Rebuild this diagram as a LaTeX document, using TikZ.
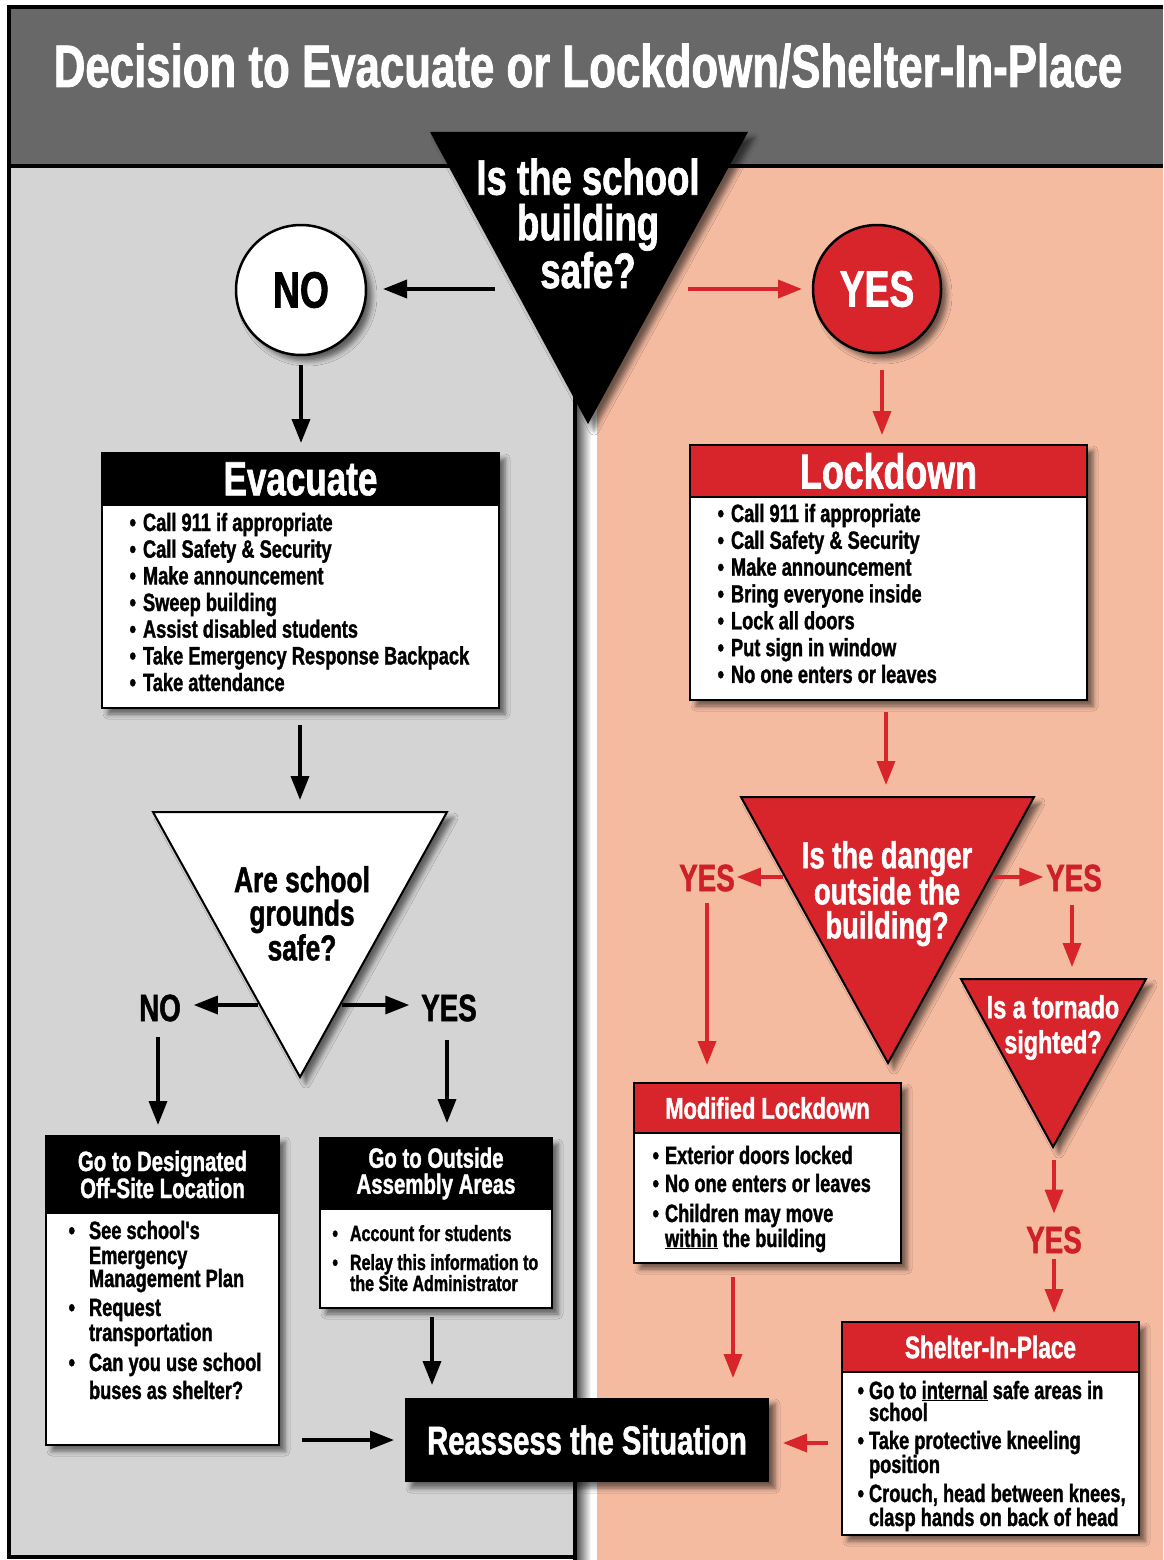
\documentclass[tikz,border=0pt]{standalone}
\usepackage{fontspec}
\newfontfamily\cond[FakeStretch=0.73,FakeBold=1.3]{Liberation Sans}
\usetikzlibrary{arrows.meta,shadows.blur}
\definecolor{bandgray}{RGB}{104,104,104}
\definecolor{leftgray}{RGB}{212,212,212}
\definecolor{salmon}{RGB}{244,187,161}
\definecolor{myred}{RGB}{216,36,43}
\definecolor{labred}{RGB}{205,32,40}
\newcommand\fsz[2]{\fontsize{#1}{#2}\selectfont}
\newcommand\bul[1]{\llap{\textbullet\hspace{#1pt}}}
\begin{document}
\begin{tikzpicture}[x=1pt,y=-1pt,
  every node/.style={inner sep=0pt, outer sep=0pt},
  fs/.style={font=\cond\bfseries\fsz{#1}{#1}},
  fsb/.style 2 args={font=\cond\bfseries\fsz{#1}{#2}},
  shad/.style={blur shadow={shadow xshift=6pt, shadow yshift=-6pt, shadow blur radius=5pt, shadow opacity=55}},
  arr/.style={line width=3.5pt, -{Triangle[length=24pt,width=18pt]}},
  barr/.style={arr, draw=black},
  rarr/.style={arr, draw=myred},
  boxall/.style={draw=black, line width=2.5pt, fill=white, shad},
  boxhead/.style={draw=black, line width=2.5pt, anchor=north, text=white},
  item/.style={anchor=base west, fs=25},
  redlab/.style={fs=38, text=labred},
]
\useasboundingbox (0,0) rectangle (1163,1560);
% background
\fill[white] (0,0) rectangle (1163,1560);
\fill[bandgray] (9,7) rectangle (1163,166);
\fill[leftgray] (9,166) rectangle (575,1557);
\fill[salmon] (597,166) rectangle (1163,1560);
\shade[left color=black!65, right color=white] (577,166) rectangle (591,1560);
\fill[white] (591,166) rectangle (597,1560);
\draw[line width=4pt] (575,166) -- (575,1560);
\draw[line width=4pt] (9,166) -- (1163,166);
\draw[line width=4pt] (1163,7) -- (9,7) -- (9,1557) -- (577,1557);

\node[fs=60, text=white, anchor=base] (title) at (588,87) {Decision to Evacuate or Lockdown/Shelter-In-Place};

% top question
\fill[black, shad] (430,132) -- (748,132) -- (588,424) -- cycle;
\node[fsb={50}{45.5}, text=white, align=center, anchor=north] (q1) at (588,158.5) {Is the school\\building\\safe?};

% circles
\node[circle, draw=black, line width=2.5pt, fill=white, shad, minimum size=130pt, fs=51] (no) at (301,290) {NO};
\node[circle, draw=black, line width=2.5pt, fill=myred, text=white, shad, minimum size=128pt, fs=51] (yes) at (877,289) {YES};

\coordinate (q1w) at (495,289);
\coordinate (q1e) at (688,289);
\draw[barr, shorten >=17pt] (q1w) -- (q1w -| no.east);
\draw[rarr, shorten >=11pt] (q1e) -- (q1e -| yes.west);

% Evacuate
\node[boxall, minimum width=397pt, minimum height=255pt] (ev) at (300.5,580.5) {};
\node[boxhead, fill=black, minimum width=397pt, minimum height=52pt, fs=48] (evh) at (ev.north) {Evacuate};
\foreach \t [count=\i] in {Call 911 if appropriate, Call Safety \& Security, Make announcement, Sweep building, Assist disabled students, Take Emergency Response Backpack, Take attendance}
  \node[item] (evi\i) at (143,{531+26.67*(\i-1)}) {\bul{7}\t};

% Lockdown
\node[boxall, minimum width=397pt, minimum height=255pt] (lk) at (888.5,572.5) {};
\node[boxhead, fill=myred, minimum width=397pt, minimum height=52pt, fs=49] (lkh) at (lk.north) {Lockdown};
\foreach \t [count=\i] in {Call 911 if appropriate, Call Safety \& Security, Make announcement, Bring everyone inside, Lock all doors, Put sign in window, No one enters or leaves}
  \node[item] (lki\i) at (731,{522+26.83*(\i-1)}) {\bul{7}\t};

\draw[barr, shorten <=10pt, shorten >=10pt] (no.south) -- (no.south |- ev.north);
\coordinate (ya) at (882,370);
\draw[rarr, shorten >=10pt] (ya) -- (ya |- lk.north);

% grounds question
\coordinate (evs) at (300,725);
\coordinate (q2top) at (300,812);
\draw[barr, shorten >=12pt] (evs) -- (q2top);
\filldraw[fill=white, draw=black, line width=2pt, shad] (153,812) -- (447,812) -- (300,1077) -- cycle;
\node[fsb={36}{33.5}, align=center, anchor=north] (q2) at (302,866) {Are school\\grounds\\safe?};
\node[fs=38] (no2) at (160,1008) {NO};
\node[fs=38] (yes2) at (449,1008) {YES};
\coordinate (q2l) at (258,1005);
\coordinate (q2r) at (342,1005);
\draw[barr, shorten >=13pt] (q2l) -- (q2l -| no2.east);
\draw[barr, shorten >=12pt] (q2r) -- (q2r -| yes2.west);

% designated
\node[boxall, minimum width=233pt, minimum height=309pt] (des) at (162.5,1290.5) {};
\node[boxhead, fill=black, minimum width=233pt, minimum height=77pt, fsb={28}{27}, align=center] (desh) at (des.north) {\rule{0pt}{8pt}Go to Designated\\Off-Site Location};
\node[item] (des1) at (89,1239) {\bul{14}See school's};
\node[item] (des2) at (89,1264) {Emergency};
\node[item] (des3) at (89,1287) {Management Plan};
\node[item] (des4) at (89,1316) {\bul{14}Request};
\node[item] (des5) at (89,1341) {transportation};
\node[item] (des6) at (89,1371) {\bul{14}Can you use school};
\node[item] (des7) at (89,1399) {buses as shelter?};

% assembly
\node[boxall, minimum width=232pt, minimum height=170pt] (asm) at (436,1223) {};
\node[boxhead, fill=black, minimum width=232pt, minimum height=71pt, fsb={28}{26}, align=center] (asmh) at (asm.north) {Go to Outside\\Assembly Areas};
\node[item, fs=22] (asm1) at (350,1241) {\bul{12}Account for students};
\node[item, fs=22] (asm2) at (350,1270) {\bul{12}Relay this information to};
\node[item, fs=22] (asm3) at (350,1291) {the Site Administrator};

\coordinate (no2d) at (158,1037);
\coordinate (yes2d) at (447,1040);
\draw[barr, shorten >=11pt] (no2d) -- (no2d |- des.north);
\draw[barr, shorten >=15pt] (yes2d) -- (yes2d |- asm.north);

% reassess
\node[fill=black, shad, minimum width=364pt, minimum height=84pt, fs=40, text=white] (re) at (587,1440) {Reassess the Situation};
\coordinate (asms) at (432,1317);
\draw[barr, shorten >=13pt] (asms) -- (asms |- re.north);
\coordinate (desr) at (302,1440);
\draw[barr, shorten >=11pt] (desr) -- (desr -| re.west);

% danger question
\coordinate (lks) at (886,712);
\coordinate (q3top) at (886,797);
\draw[rarr, shorten >=12pt] (lks) -- (q3top);
\filldraw[fill=myred, draw=black, line width=2pt, shad] (741,797) -- (1034,797) -- (888,1063) -- cycle;
\node[fsb={37.5}{34}, text=white, align=center, anchor=north] (q3) at (887,841) {Is the danger\\outside the\\building?};
\node[redlab] (ya2) at (707,878) {YES};
\node[redlab] (yb2) at (1074,878) {YES};
\coordinate (q3l) at (783,877);
\coordinate (q3r) at (994,877);
\draw[rarr, shorten >=2pt] (q3l) -- (q3l -| ya2.east);
\draw[rarr, shorten >=3pt] (q3r) -- (q3r -| yb2.west);

% tornado
\coordinate (ybd) at (1072,905);
\coordinate (q4top) at (1072,979);
\draw[rarr, shorten >=12pt] (ybd) -- (q4top);
\filldraw[fill=myred, draw=black, line width=2pt, shad] (961,979) -- (1146,979) -- (1053,1147) -- cycle;
\node[fsb={32}{35}, text=white, align=center, anchor=north] (q4) at (1053,995) {Is a tornado\\sighted?};
\node[redlab] (yc) at (1054,1240) {YES};
\coordinate (q4b) at (1054,1160);
\draw[rarr, shorten >=13pt] (q4b) -- (yc.north);

% modified lockdown
\node[boxall, minimum width=267pt, minimum height=180pt] (mod) at (767.5,1173) {};
\node[boxhead, fill=myred, minimum width=267pt, minimum height=50pt, fs=30] (modh) at (mod.north) {Modified Lockdown};
\node[item] (mod1) at (665,1164) {\bul{6}Exterior doors locked};
\node[item] (mod2) at (665,1192) {\bul{6}No one enters or leaves};
\node[item] (mod3) at (665,1222) {\bul{6}Children may move};
\node[item] (mod4) at (665,1247) {\underline{within} the building};
\coordinate (yad) at (707,903);
\draw[rarr, shorten >=18pt] (yad) -- (yad |- mod.north);

% shelter
\node[boxall, minimum width=297pt, minimum height=213pt] (sh) at (990.5,1428.5) {};
\node[boxhead, fill=myred, minimum width=297pt, minimum height=50pt, fs=31] (shh) at (sh.north) {Shelter-In-Place};
\node[item] (sh1) at (869,1399) {\bul{5}Go to \underline{internal} safe areas in};
\node[item] (sh2) at (869,1421) {school};
\node[item] (sh3) at (869,1449) {\bul{5}Take protective kneeling};
\node[item] (sh4) at (869,1473) {position};
\node[item] (sh5) at (869,1502) {\bul{5}Crouch, head between knees,};
\node[item] (sh6) at (869,1526) {clasp hands on back of head};
\draw[rarr, shorten <=6pt, shorten >=9pt] (yc.south) -- (yc.south |- sh.north);

\coordinate (mods) at (733,1277);
\draw[rarr, shorten >=20pt] (mods) -- (mods |- re.north);
\coordinate (shl) at (828,1443);
\draw[rarr, shorten >=14pt] (shl) -- (shl -| re.east);
\end{tikzpicture}
\end{document}
